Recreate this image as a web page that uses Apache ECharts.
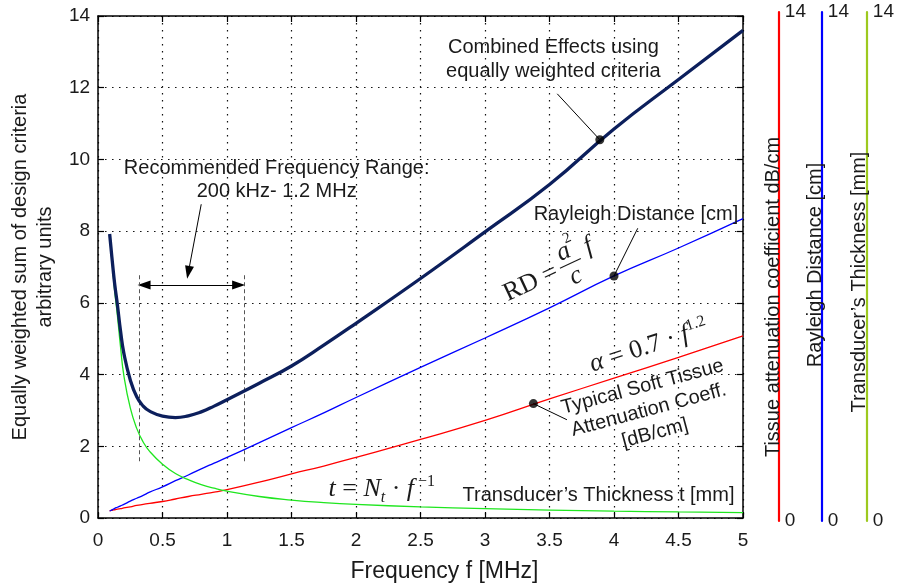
<!DOCTYPE html>
<html>
<head>
<meta charset="utf-8">
<script src="https://cdn.jsdelivr.net/npm/echarts@6/dist/echarts.min.js"></script>
<style>
  html, body { margin: 0; padding: 0; background: #fff; }
  #chart { width: 897px; height: 588px; }
</style>
</head>
<body>
<div id="chart"></div>
<script>
// Frequency samples (MHz) shared by all four curves
const freqMHz = [0.09, 0.1, 0.115, 0.13, 0.15, 0.175, 0.2, 0.25, 0.3, 0.35, 0.4, 0.5, 0.6, 0.7, 0.8, 0.9,
  1.0, 1.25, 1.5, 1.75, 2.0, 2.5, 3.0, 3.5, 4.0, 4.5, 5.0];

// Combined effects, equally weighted sum (arbitrary units)
const combinedSum = [7.92, 7.55, 7.0, 6.5, 5.95, 5.2, 4.6, 3.85, 3.38, 3.12, 2.98, 2.84, 2.8, 2.85, 2.96, 3.12,
  3.3, 3.76, 4.24, 4.82, 5.43, 6.68, 7.98, 9.3, 10.85, 12.23, 13.6];

// Typical soft tissue attenuation coefficient [dB/cm]
const attenuation = [0.2, 0.21, 0.22, 0.23, 0.25, 0.26, 0.28, 0.31, 0.35, 0.38, 0.41, 0.46, 0.53, 0.6, 0.66, 0.72,
  0.79, 1.0, 1.23, 1.45, 1.69, 2.19, 2.72, 3.32, 3.9, 4.48, 5.08];

// Rayleigh distance [cm]
const rayleighDistance = [0.2, 0.21, 0.24, 0.27, 0.3, 0.34, 0.38, 0.47, 0.55, 0.63, 0.72, 0.87, 1.04, 1.2, 1.37, 1.53,
  1.69, 2.1, 2.52, 2.93, 3.36, 4.2, 5.02, 5.86, 6.75, 7.53, 8.35];

// Transducer thickness [mm]
const thickness = [7.85, 7.5, 6.9, 6.3, 5.65, 4.75, 3.98, 3.07, 2.5, 2.12, 1.86, 1.5, 1.24, 1.07, 0.93, 0.83,
  0.75, 0.6, 0.5, 0.43, 0.38, 0.31, 0.26, 0.22, 0.19, 0.17, 0.15];

// Highlighted points on the combined, Rayleigh and attenuation curves
const markerFreq = [3.89, 4.0, 3.375];
const markerValue = [10.55, 6.75, 3.19];

// Recommended frequency band bounds (MHz)
const bandStart = 0.317;
const bandEnd = 1.13;

const chart = echarts.init(document.getElementById('chart'), null, { renderer: 'canvas' });

const SANS = '"Liberation Sans", Arial, Helvetica, sans-serif';
const SERIF = '"Liberation Serif", "Times New Roman", serif';
const INK = '#1a1a1a';

const pairs = (ys) => freqMHz.map((f, i) => [f, ys[i]]);

const frameLine = { show: true, onZero: false, lineStyle: { color: '#000', width: 1.5 } };
const innerTicks = { show: true, inside: true, length: 6, lineStyle: { color: '#000', width: 1.2 } };
const dottedGrid = { show: true, lineStyle: { color: '#111', width: 1.2, type: [1.5, 5.5] } };
const tickFont = { color: INK, fontSize: 19, fontFamily: SANS };

function sideAxis(color, offset) {
  return {
    type: 'value', gridIndex: 1, position: 'right', offset: offset,
    min: 0, max: 14, interval: 14,
    axisLine: { show: true, onZero: false, lineStyle: { color: color, width: 2.2 } },
    axisTick: { show: false },
    splitLine: { show: false },
    axisLabel: Object.assign({ margin: 6 }, tickFont)
  };
}

const arrowEnd = { symbol: 'triangle', symbolSize: [9, 13] };
const dashedBound = { type: [4, 3], color: '#555' };
const annotationLines = [
  [{ coord: [3.56, 11.83] }, { coord: [markerFreq[0], markerValue[0]] }],
  [{ coord: [4.184, 8.08] }, { coord: [markerFreq[1], markerValue[1]] }],
  [{ coord: [markerFreq[2], markerValue[2]] }, { coord: [3.635, 2.74] }],
  [{ coord: [0.8, 8.75] }, Object.assign({ coord: [0.7, 6.85] }, arrowEnd)],
  [Object.assign({ coord: [bandStart + 0.04, 6.5] }, arrowEnd), Object.assign({ coord: [bandEnd - 0.04, 6.5] }, arrowEnd)],
  [{ coord: [bandStart, 6.77], lineStyle: dashedBound }, { coord: [bandStart, 1.51], lineStyle: dashedBound }],
  [{ coord: [bandEnd, 6.77], lineStyle: dashedBound }, { coord: [bandEnd, 1.51], lineStyle: dashedBound }]
];

function curve(name, values, color, width, z) {
  return {
    name: name, type: 'line', xAxisIndex: 0, yAxisIndex: 0,
    data: pairs(values), showSymbol: false, smooth: 0.5,
    lineStyle: { color: color, width: width }, z: z
  };
}

const option = {
  animation: false,
  backgroundColor: '#fff',
  grid: [
    { left: 90, right: 154, top: 16, bottom: 67 },
    { left: 90, right: 154, top: 12, bottom: 67 }
  ],
  xAxis: [
    {
      type: 'value', gridIndex: 0, position: 'bottom', min: 0, max: 5, interval: 0.5,
      axisLine: frameLine, axisTick: innerTicks, splitLine: dottedGrid,
      axisLabel: Object.assign({ margin: 13 }, tickFont),
      name: 'Frequency f [MHz]', nameLocation: 'middle', nameGap: 42,
      nameTextStyle: { color: INK, fontSize: 23, fontFamily: SANS, padding: [0, 0, 0, 48] }
    },
    {
      type: 'value', gridIndex: 0, position: 'top', min: 0, max: 5, interval: 0.5,
      axisLine: frameLine, axisTick: innerTicks, splitLine: { show: false }, axisLabel: { show: false }
    },
    { type: 'value', gridIndex: 1, min: 0, max: 1, show: false }
  ],
  yAxis: [
    {
      type: 'value', gridIndex: 0, position: 'left', min: 0, max: 14, interval: 2,
      axisLine: frameLine, axisTick: innerTicks, splitLine: dottedGrid,
      axisLabel: Object.assign({ margin: 8 }, tickFont),
      name: 'Equally weighted sum of design criteria\narbitrary units',
      nameLocation: 'middle', nameRotate: 90, nameGap: 26,
      nameTextStyle: { color: INK, fontSize: 20, fontFamily: SANS, lineHeight: 25, align: 'center' }
    },
    {
      type: 'value', gridIndex: 0, position: 'right', min: 0, max: 14, interval: 2,
      axisLine: frameLine, axisTick: innerTicks, splitLine: { show: false }, axisLabel: { show: false }
    },
    sideAxis('#ff0000', 41),
    sideAxis('#0000ff', 84),
    sideAxis('#9dc91f', 129)
  ],
  series: [
    curve('Tissue attenuation', attenuation, '#ff0000', 1.3, 3),
    curve('Rayleigh distance', rayleighDistance, '#0000ff', 1.3, 3),
    curve('Transducer thickness', thickness, '#1fe61f', 1.3, 3),
    curve('Combined effects', combinedSum, '#0c1f5c', 3.3, 5),
    {
      name: 'Callouts', type: 'scatter', xAxisIndex: 0, yAxisIndex: 0,
      data: markerFreq.map((f, i) => [f, markerValue[i]]),
      symbolSize: 9, itemStyle: { color: '#000' }, z: 10, silent: true,
      markLine: {
        silent: true, symbol: 'none', animation: false,
        label: { show: false },
        lineStyle: { color: '#000', width: 1, type: 'solid' },
        emphasis: { disabled: true },
        data: annotationLines
      }
    }
  ]
};

chart.setOption(option);

function buildAnnotations() {
  const p = (f, v) => chart.convertToPixel({ seriesIndex: 0 }, [f, v]);
  const deg = (d) => d * Math.PI / 180;
  const sans = (size) => `${size}px ${SANS}`;
  const serif = (size, italic) => `${italic ? 'italic ' : ''}${size}px ${SERIF}`;
  const gridRight = chart.getWidth() - 154;
  const els = [];

  const plain = (text, at, extra) => {
    els.push({
      type: 'text', x: at[0], y: at[1], z: 50,
      style: Object.assign({ text: text, font: sans(20), fill: INK, align: 'center', verticalAlign: 'middle', lineHeight: 24 }, extra || {})
    });
  };

  plain('Combined Effects using\nequally weighted criteria', p(3.53, 12.8));
  plain('Recommended Frequency Range:\n200 kHz- 1.2 MHz', p(1.385, 9.42), { lineHeight: 23 });
  plain('Rayleigh Distance [cm]', p(4.17, 8.46));
  plain('Transducer\u2019s Thickness t [mm]', p(3.88, 0.62));

  // Tissue attenuation label, tilted along the red curve
  const tissueAt = p(4.27, 3.01);
  els.push({
    type: 'text', x: tissueAt[0], y: tissueAt[1], rotation: deg(15), z: 50,
    style: { text: 'Typical Soft Tissue\nAttenuation Coeff.\n[dB/cm]', font: sans(20), fill: INK, align: 'center', verticalAlign: 'middle', lineHeight: 24 }
  });

  // RD = a^2 / c * f
  const rdAt = p(3.56, 6.93);
  els.push({
    type: 'group', x: rdAt[0], y: rdAt[1], rotation: deg(25), z: 50,
    children: [
      { type: 'text', x: -1, y: 1, style: { text: 'RD =', font: serif(26), fill: INK, align: 'right', verticalAlign: 'middle' } },
      { type: 'text', x: 13, y: -13, style: { text: 'a', font: serif(26, true), fill: INK, align: 'center', verticalAlign: 'middle' } },
      { type: 'text', x: 22, y: -24, style: { text: '2', font: serif(15), fill: INK, align: 'center', verticalAlign: 'middle' } },
      { type: 'line', shape: { x1: 3, y1: 0, x2: 26, y2: 0 }, style: { stroke: INK, lineWidth: 1.2 } },
      { type: 'text', x: 14, y: 14, style: { text: 'c', font: serif(26, true), fill: INK, align: 'center', verticalAlign: 'middle' } },
      { type: 'text', x: 38, y: -8, style: { text: 'f', font: serif(26, true), fill: INK, align: 'center', verticalAlign: 'middle' } }
    ]
  });

  // alpha = 0.7 * f^1.2
  const alphaAt = p(4.27, 4.79);
  els.push({
    type: 'text', x: alphaAt[0], y: alphaAt[1], rotation: deg(18), z: 50,
    style: {
      text: '{i|\u03b1} = 0.7 \u00b7 {i|f}{sup|1.2}',
      font: serif(26), fill: INK, align: 'center', verticalAlign: 'middle', lineHeight: 30,
      rich: {
        i: { font: serif(26, true), fill: INK, lineHeight: 30 },
        sup: { font: serif(16), fill: INK, verticalAlign: 'top', lineHeight: 16 }
      }
    }
  });

  // t = N_t * f^-1
  const tAt = p(2.2, 0.8);
  els.push({
    type: 'text', x: tAt[0], y: tAt[1], z: 50,
    style: {
      text: '{i|t} = {i|N}{sub|t} \u00b7 {i|f}{sup| \u22121}',
      font: serif(26), fill: INK, align: 'center', verticalAlign: 'middle', lineHeight: 32,
      rich: {
        i: { font: serif(26, true), fill: INK, lineHeight: 32 },
        sub: { font: serif(16, true), fill: INK, verticalAlign: 'bottom', lineHeight: 16 },
        sup: { font: serif(16), fill: INK, verticalAlign: 'top', lineHeight: 16 }
      }
    }
  });

  // Titles of the three stand-alone scales on the right
  const sideTitle = (text, x, y) => els.push({
    type: 'text', x: x, y: y, rotation: deg(90), z: 50,
    style: { text: text, font: sans(20), fill: INK, align: 'center', verticalAlign: 'middle' }
  });
  sideTitle('Tissue attenuation coefficient dB/cm', gridRight + 30, 297);
  sideTitle('Rayleigh Distance [cm]', gridRight + 72, 265);
  sideTitle('Transducer\u2019s Thickness [mm]', gridRight + 116, 282);

  return els;
}

chart.setOption({ graphic: buildAnnotations() });
</script>
</body>
</html>
